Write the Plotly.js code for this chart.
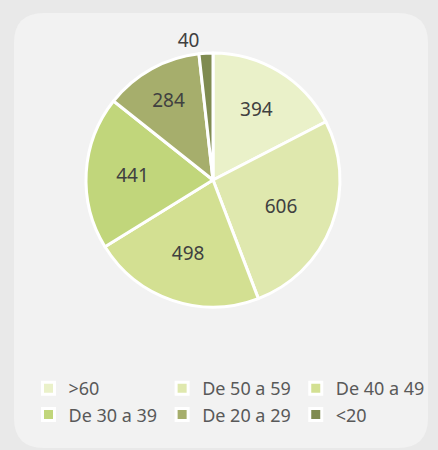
<!DOCTYPE html>
<html>
<head>
<meta charset="utf-8">
<script src="https://cdn.plot.ly/plotly-3.0.1.min.js"></script>
<style>
  html, body { margin: 0; padding: 0; background: #E9E9E9; }
  #chart { width: 438px; height: 450px; }
</style>
</head>
<body>
<div id="chart"></div>
<script>
const categories = ['>60', 'De 50 a 59', 'De 40 a 49', 'De 30 a 39', 'De 20 a 29', '<20'];
const values = [394, 606, 498, 441, 284, 40];
const colors = ['#EAF1C9', '#DFE8AE', '#D3E092', '#C1D67B', '#A6AE6C', '#7F8B50'];
const textPositions = ['inside', 'inside', 'inside', 'inside', 'inside', 'outside'];

const W = 438, H = 450;
const px = v => v / W, py = v => 1 - v / H;
const L = 14, T = 13, R = 428, B = 448, rad = 30;
const panelPath = [
  'M', px(L + rad), py(T),
  'L', px(R - rad), py(T),
  'Q', px(R), py(T), px(R), py(T + rad),
  'L', px(R), py(B - rad),
  'Q', px(R), py(B), px(R - rad), py(B),
  'L', px(L + rad), py(B),
  'Q', px(L), py(B), px(L), py(B - rad),
  'L', px(L), py(T + rad),
  'Q', px(L), py(T), px(L + rad), py(T),
  'Z'
].join(' ');

const labelFont = { family: 'Noto Sans, sans-serif', size: 19, color: '#404040' };

const trace = {
  type: 'pie',
  labels: categories,
  values: values,
  sort: false,
  direction: 'clockwise',
  rotation: 0,
  marker: { colors: colors, line: { color: '#FFFFFF', width: 3 } },
  textinfo: 'value',
  textposition: textPositions,
  insidetextorientation: 'horizontal',
  textfont: labelFont,
  insidetextfont: labelFont,
  outsidetextfont: labelFont,
  hoverinfo: 'label+value',
  domain: { x: [86 / W, 340 / W], y: [1 - 307 / H, 1 - 53 / H] }
};

const layout = {
  width: W,
  height: H,
  margin: { l: 0, r: 0, t: 0, b: 0 },
  paper_bgcolor: '#E9E9E9',
  showlegend: true,
  legend: {
    orientation: 'h',
    x: 229 / W, xanchor: 'center',
    y: 1 - 370 / H, yanchor: 'top',
    font: { family: 'Noto Sans, sans-serif', size: 18, color: '#595959' },
    bgcolor: 'rgba(0,0,0,0)',
    traceorder: 'normal'
  },
  shapes: [{
    type: 'path',
    xref: 'paper', yref: 'paper',
    path: panelPath,
    fillcolor: '#F2F2F2',
    line: { width: 0 },
    layer: 'below'
  }]
};

Plotly.newPlot('chart', [trace], layout, { displayModeBar: false, staticPlot: true });
</script>
</body>
</html>
